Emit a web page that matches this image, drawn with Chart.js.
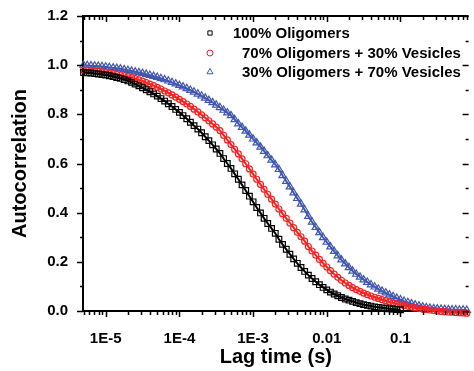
<!DOCTYPE html>
<html>
<head>
<meta charset="utf-8">
<script src="https://cdn.jsdelivr.net/npm/chart.js@4.4.1/dist/chart.umd.min.js"></script>
<style>
  html, body { margin: 0; padding: 0; background: #fff; }
  #wrap { width: 474px; height: 371px; }
</style>
</head>
<body>
<div id="wrap"><canvas id="fcsChart" width="474" height="371"></canvas></div>
<script>
  // lag times (s), 20 per decade
  const lagTime = [
    5.01e-6, 5.62e-6, 6.31e-6, 7.08e-6, 7.94e-6, 8.91e-6,
    1.00e-5, 1.12e-5, 1.26e-5, 1.41e-5, 1.58e-5, 1.78e-5, 2.00e-5, 2.24e-5, 2.51e-5, 2.82e-5,
    3.16e-5, 3.55e-5, 3.98e-5, 4.47e-5, 5.01e-5, 5.62e-5, 6.31e-5, 7.08e-5, 7.94e-5, 8.91e-5,
    1.00e-4, 1.12e-4, 1.26e-4, 1.41e-4, 1.58e-4, 1.78e-4, 2.00e-4, 2.24e-4, 2.51e-4, 2.82e-4,
    3.16e-4, 3.55e-4, 3.98e-4, 4.47e-4, 5.01e-4, 5.62e-4, 6.31e-4, 7.08e-4, 7.94e-4, 8.91e-4,
    1.00e-3, 1.12e-3, 1.26e-3, 1.41e-3, 1.58e-3, 1.78e-3, 2.00e-3, 2.24e-3, 2.51e-3, 2.82e-3,
    3.16e-3, 3.55e-3, 3.98e-3, 4.47e-3, 5.01e-3, 5.62e-3, 6.31e-3, 7.08e-3, 7.94e-3, 8.91e-3,
    1.00e-2, 1.12e-2, 1.26e-2, 1.41e-2, 1.58e-2, 1.78e-2, 2.00e-2, 2.24e-2, 2.51e-2, 2.82e-2,
    3.16e-2, 3.55e-2, 3.98e-2, 4.47e-2, 5.01e-2, 5.62e-2, 6.31e-2, 7.08e-2, 7.94e-2, 8.91e-2,
    0.100, 0.112, 0.126, 0.141, 0.158, 0.178, 0.200, 0.224, 0.251, 0.282,
    0.316, 0.355, 0.398, 0.447, 0.501, 0.562, 0.631, 0.708, 0.794
  ];

  const oligomers100 = [
    .970, .969, .968, .966, .964, .962,
    .960, .957, .954, .950, .946, .941, .936, .930, .923, .916, .908, .900, .892, .883, .874, .864, .854, .843, .832, .820,
    .808, .795, .782, .768, .754, .740, .725, .709, .693, .676, .659, .641, .620, .600, .580, .558, .536, .513, .490, .467,
    .444, .421, .399, .377, .356, .336, .316, .292, .271, .251, .231, .212, .194, .177, .161, .146, .132, .119, .107, .096,
    .086, .077, .069, .062, .055, .049, .044, .039, .034, .030, .026, .023, .020, .017, .015, .013, .011, .009, .008, .006,
    .005
  ];

  const oligo70ves30 = [
    .980, .979, .978, .977, .975, .973,
    .971, .969, .966, .963, .960, .957, .953, .949, .945, .940, .935, .929, .923, .917, .910, .903, .895, .887, .879, .870,
    .861, .852, .842, .832, .821, .810, .798, .786, .774, .761, .748, .734, .715, .696, .677, .658, .639, .619, .599, .578,
    .557, .536, .515, .495, .475, .455, .435, .415, .396, .377, .358, .339, .320, .302, .284, .262, .244, .227, .210, .194,
    .179, .164, .150, .137, .125, .114, .104, .095, .087, .080, .073, .067, .061, .056, .051, .046, .042, .037, .033, .029,
    .026, .022, .019, .016, .013, .011, .008, .006, .004, .002, .000, -.002, -.003, -.004, -.005, -.006, -.007, -.008, -.009
  ];

  const oligo30ves70 = [
    1.000, .999, .998, .997, .996, .995,
    .993, .991, .989, .987, .985, .982, .979, .976, .973, .970, .967, .963, .959, .955, .951, .946, .941, .936, .930, .924,
    .918, .912, .905, .898, .891, .883, .875, .866, .857, .848, .838, .828, .817, .806, .795, .779, .762, .747, .732, .716,
    .700, .684, .667, .650, .632, .614, .595, .576, .551, .528, .505, .481, .458, .435, .412, .385, .362, .340, .319, .299,
    .280, .261, .243, .225, .208, .192, .177, .163, .150, .138, .127, .117, .107, .098, .089, .081, .074, .066, .059, .052,
    .046, .040, .035, .030, .025, .021, .017, .014, .012, .010, .009, .008, .007, .006, .005, .005, .004, .004, .003
  ];

  const seriesLabels = ["100% Oligomers", "70% Oligomers + 30% Vesicles", "30% Oligomers + 70% Vesicles"];
  const xTickValues = [1e-5, 1e-4, 1e-3, 0.01, 0.1];
  const xTickLabels = ["1E-5", "1E-4", "1E-3", "0.01", "0.1"];
  const yTickValues = [0, 0.2, 0.4, 0.6, 0.8, 1.0, 1.2];

  const FONT = "'Liberation Sans', Arial, Helvetica, sans-serif";

  function points(values) {
    return values.map((v, i) => ({ x: lagTime[i], y: v }));
  }

  function series(label, values, color, style, radius) {
    return {
      label, data: points(values), showLine: true,
      borderColor: color, borderWidth: 2, backgroundColor: color,
      pointStyle: style, pointRadius: radius, pointBorderWidth: 1.2,
      pointBorderColor: color, pointBackgroundColor: "rgba(255,255,255,0)",
      clip: 6
    };
  }

  // axis ticks on all four sides + top frame line
  const framePlugin = {
    id: "frame",
    afterDatasetsDraw(chart) {
      const { ctx, chartArea: a, scales: { x, y } } = chart;
      const seg = (x1, y1, x2, y2) => { ctx.beginPath(); ctx.moveTo(x1, y1); ctx.lineTo(x2, y2); ctx.stroke(); };
      ctx.save();
      ctx.strokeStyle = "#000";
      ctx.lineWidth = 2;
      seg(a.left - 1, a.top, a.right, a.top);
      ctx.lineWidth = 1.5;
      for (let d = -6; d <= 0; d++) {
        for (let m = 1; m <= 9; m++) {
          const v = m * Math.pow(10, d);
          if (v < x.min || v > x.max) continue;
          const px = Math.round(x.getPixelForValue(v)) + 0.5;
          const len = m === 1 ? 6 : 4;
          seg(px, a.bottom, px, a.bottom + len);
          seg(px, a.top, px, a.top + len);
        }
      }
      for (let k = 0; k <= 12; k++) {
        const py = Math.round(y.getPixelForValue(k / 10)) + 0.5;
        const len = k % 2 ? 3 : 6;
        seg(a.left - len, py, a.left, py);
        seg(a.right - len, py, a.right, py);
      }
      ctx.restore();
    }
  };

  // legend drawn inside the plot, under the top axis
  const legendPlugin = {
    id: "insideLegend",
    afterDraw(chart) {
      const { ctx } = chart;
      const rows = [{ y: 33, tx: 233 }, { y: 53, tx: 242 }, { y: 72, tx: 242 }];
      chart.data.datasets.forEach((ds, i) => {
        const r = rows[i];
        ctx.save();
        ctx.strokeStyle = ds.borderColor;
        ctx.fillStyle = "rgba(255,255,255,0)";
        ctx.lineWidth = 1;
        Chart.helpers.drawPoint(ctx, { pointStyle: ds.pointStyle, radius: ds.pointStyle === "triangle" ? 3.5 : 3, rotation: 0, borderWidth: 1 }, 210, r.y);
        ctx.fillStyle = "#000";
        ctx.font = "bold 15px " + FONT;
        ctx.textBaseline = "middle";
        ctx.textAlign = "left";
        ctx.fillText(ds.label, r.tx, r.y + 1);
        ctx.restore();
      });
    }
  };

  new Chart(document.getElementById("fcsChart"), {
    type: "scatter",
    data: {
      datasets: [
        series(seriesLabels[0], oligomers100, "#000000", "rect", 4),
        series(seriesLabels[1], oligo70ves30, "#ff2020", "circle", 3),
        series(seriesLabels[2], oligo30ves70, "#4157b0", "triangle", 4.2)
      ]
    },
    options: {
      responsive: false,
      animation: false,
      devicePixelRatio: 1,
      layout: { padding: { top: 14, right: 0, left: 0, bottom: 0 } },
      plugins: { legend: { display: false }, tooltip: { enabled: false } },
      scales: {
        x: {
          type: "logarithmic", min: 4.92e-6, max: 0.84,
          afterBuildTicks: s => { s.ticks = xTickValues.map(v => ({ value: v })); },
          afterFit: s => { s.height = 60; },
          grid: { display: false },
          border: { display: true, color: "#000", width: 2 },
          ticks: { autoSkip: false, maxRotation: 0, padding: 11, color: "#000",
                   font: { family: FONT, size: 15, weight: "bold" },
                   callback: (v, i) => xTickLabels[i] },
          title: { display: true, text: "Lag time (s)", color: "#000",
                   font: { family: FONT, size: 20, weight: "bold" }, padding: { top: 0, bottom: 2 } }
        },
        y: {
          min: 0, max: 1.2,
          afterBuildTicks: s => { s.ticks = yTickValues.map(v => ({ value: v })); },
          afterFit: s => { s.width = 83; },
          grid: { display: false },
          border: { display: true, color: "#000", width: 2 },
          ticks: { padding: 7, color: "#000", font: { family: FONT, size: 15, weight: "bold" },
                   callback: v => v.toFixed(1) },
          title: { display: true, text: "Autocorrelation", color: "#000",
                   font: { family: FONT, size: 20, weight: "bold" }, padding: { top: 8, bottom: 0 } }
        }
      }
    },
    plugins: [framePlugin, legendPlugin]
  });
</script>
</body>
</html>
